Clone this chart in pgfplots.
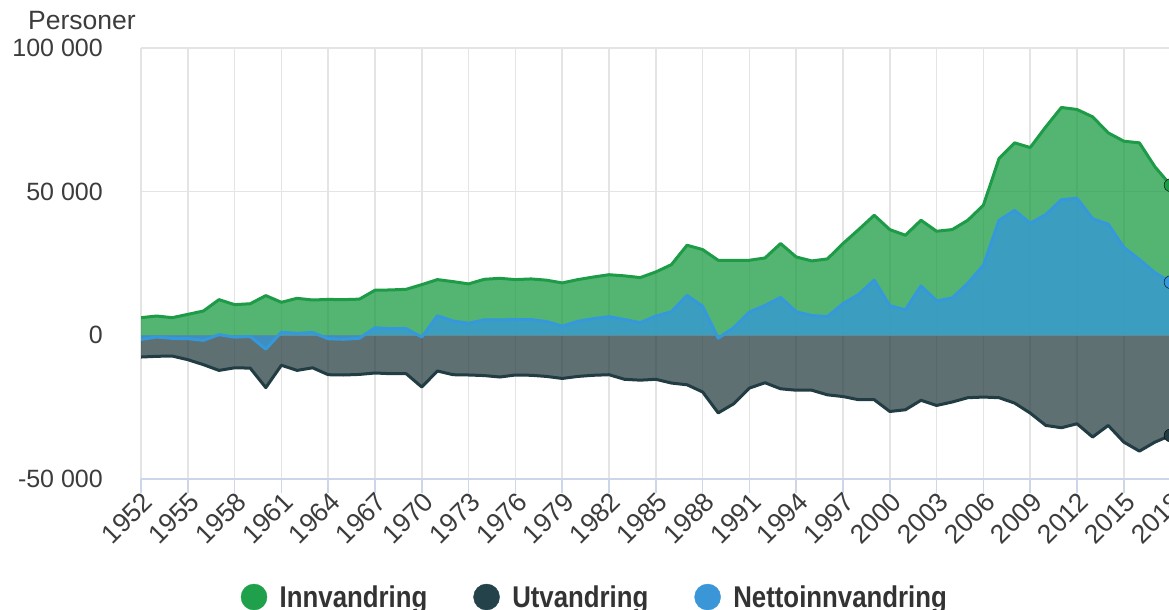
\documentclass[border=0pt]{standalone}
\usepackage{fontspec}
\setmainfont{Liberation Sans}
\newfontfamily\legfont{Liberation Sans}[FakeStretch=0.86]
\usepackage{pgfplots}
\pgfplotsset{compat=1.18}
\usepackage{pgfplotstable}

\definecolor{gIn}{RGB}{29,155,71}
\definecolor{gInFill}{RGB}{27,156,68}
\definecolor{dUt}{RGB}{33,60,66}
\definecolor{dUtFill}{RGB}{41,64,68}
\definecolor{bNet}{RGB}{52,152,219}
\definecolor{gridc}{RGB}{228,228,228}
\definecolor{axc}{RGB}{204,214,235}
\definecolor{txt}{RGB}{60,60,60}
\definecolor{legtxt}{RGB}{51,51,51}
\definecolor{legG}{RGB}{31,160,74}
\definecolor{legD}{RGB}{36,66,74}
\definecolor{legB}{RGB}{58,150,215}

\pgfplotstableread{
year inn ut net
1952 6150 -7550 -1400
1953 6730 -7300 -600
1954 6150 -7200 -1050
1955 7300 -8470 -1170
1956 8470 -10200 -1730
1957 12430 -12200 230
1958 10680 -11300 -620
1959 11000 -11400 -400
1960 13830 -18200 -4800
1961 11500 -10400 1100
1962 12890 -12200 690
1963 12300 -11300 1000
1964 12500 -13700 -1200
1965 12430 -13800 -1370
1966 12600 -13600 -1000
1967 15700 -13100 2650
1968 15800 -13350 2300
1969 16030 -13350 2300
1970 17650 -18000 -600
1971 19400 -12400 6800
1972 18700 -13700 5000
1973 17900 -13800 4200
1974 19500 -14000 5400
1975 19850 -14500 5350
1976 19400 -13800 5500
1977 19630 -13900 5500
1978 19200 -14300 4800
1979 18240 -15000 3200
1980 19400 -14300 4900
1981 20300 -13900 5800
1982 21100 -13700 6500
1983 20700 -15300 5500
1984 20100 -15600 4400
1985 22060 -15300 6700
1986 24600 -16600 8200
1987 31360 -17200 13900
1988 29850 -19700 10100
1989 26130 -27000 -1000
1990 26130 -23800 2700
1991 26130 -18350 8100
1992 26930 -16500 10400
1993 31950 -18600 13200
1994 27280 -19100 8200
1995 25900 -19100 6900
1996 26600 -20700 6500
1997 31950 -21300 11000
1998 36800 -22400 14200
1999 41800 -22400 19200
2000 36800 -26500 10300
2001 34840 -25900 8900
2002 40060 -22600 17200
2003 36230 -24400 12000
2004 36800 -23200 13000
2005 40060 -21700 18100
2006 45280 -21480 24400
2007 61530 -21700 40000
2008 66990 -23570 43500
2009 65360 -27050 39000
2010 72560 -31350 42000
2011 79300 -32160 47200
2012 78600 -30770 47700
2013 76050 -35400 40600
2014 70470 -31350 38700
2015 67570 -37150 30600
2016 66990 -40290 26400
2017 58630 -37150 21800
2018 52250 -34830 18500
}\datatab

\begin{document}
\begin{tikzpicture}
\begin{axis}[
  scale only axis, width=1029.6pt, height=431pt,
  xmin=1952, xmax=2018, ymin=-50000, ymax=100000,
  axis x line*=bottom, axis y line*=left,
  x axis line style={draw=axc, line width=1.5pt},
  y axis line style={draw=none},
  xtick={1952,1955,1958,1961,1964,1967,1970,1973,1976,1979,1982,1985,1988,1991,1994,1997,2000,2003,2006,2009,2012,2015,2018},
  xticklabels={1952,1955,1958,1961,1964,1967,1970,1973,1976,1979,1982,1985,1988,1991,1994,1997,2000,2003,2006,2009,2012,2015,2018},
  ytick={-50000,0,50000,100000},
  yticklabels={-50 000,0,50 000,100 000},
  scaled y ticks=false, scaled x ticks=false,
  grid=major,
  major grid style={draw=gridc, line width=1.5pt},
  tick align=outside, major tick length=14pt,
  xtick style={draw=axc, line width=1.5pt},
  ytick style={draw=none},
  tick label style={font=\fontsize{25}{30}\selectfont, text=txt},
  yticklabel style={anchor=east, inner sep=0pt, xshift=-24pt},
  xticklabel style={font=\fontsize{26.5}{30}\selectfont, xshift=7pt, yshift=-4pt, rotate=45, anchor=east, inner sep=0pt},
  ylabel={Personer},
  every axis y label/.style={at={(rel axis cs:0,1)}, anchor=base, xshift=-59pt, yshift=18pt, font=\fontsize{26.5}{30}\selectfont, text=txt},
  legend columns=3,
  legend style={draw=none, fill=none, inner sep=0pt,
    at={(axis description cs:0,0)}, anchor=west, xshift=99.6pt, yshift=-118pt,
    font=\legfont\bfseries\fontsize{30}{34}\selectfont, text=legtxt,
    column sep=0pt, nodes={inner sep=0pt},
    /tikz/every odd column/.style={column sep=12.5pt},
    /tikz/every even column/.style={column sep=46pt}},
]
\coordinate (bl) at (rel axis cs:0,0);
\coordinate (tr) at (rel axis cs:1,1);

\addplot[draw=none, fill=gInFill, fill opacity=0.75, forget plot] table[x=year,y=inn]{\datatab} \closedcycle;
\addplot[gIn, line width=3pt, line join=round, forget plot] table[x=year,y=inn]{\datatab};
\addplot[draw=none, fill=dUtFill, fill opacity=0.75, forget plot] table[x=year,y=ut]{\datatab} \closedcycle;
\addplot[dUt, line width=3pt, line join=round, forget plot] table[x=year,y=ut]{\datatab};
\addplot[draw=none, fill=bNet, fill opacity=0.75, forget plot] table[x=year,y=net]{\datatab} \closedcycle;
\addplot[bNet, line width=3pt, line join=round, forget plot] table[x=year,y=net]{\datatab};

\addplot[only marks, mark=*, mark size=6.5pt, mark options={fill=gIn, draw=none}, forget plot] coordinates {(2018,52250)};
\addplot[only marks, mark=*, mark size=6.5pt, mark options={fill=dUt, draw=none}, forget plot] coordinates {(2018,-34830)};
\addplot[only marks, mark=*, mark size=6.5pt, mark options={fill=bNet, draw=none}, forget plot] coordinates {(2018,18500)};

\addlegendimage{legend image code/.code={\fill[legG] (13pt,0pt) circle (13pt);}}
\addlegendentry{Innvandring}
\addlegendimage{legend image code/.code={\fill[legD] (13pt,0pt) circle (13pt);}}
\addlegendentry{Utvandring}
\addlegendimage{legend image code/.code={\fill[legB] (13pt,0pt) circle (13pt);}}
\addlegendentry{Nettoinnvandring}
\end{axis}
\pgfresetboundingbox
\path[use as bounding box] ([xshift=-141pt,yshift=-130pt]bl) rectangle ([xshift=-1.6pt,yshift=48pt]tr);
\end{tikzpicture}
\end{document}
